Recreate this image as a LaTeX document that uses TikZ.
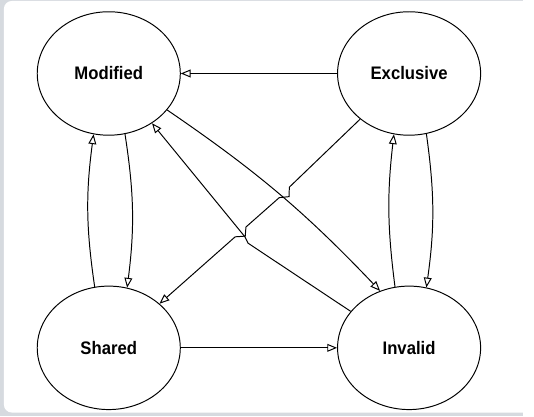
\documentclass[tikz,border=0pt]{standalone}
\usepackage{fontspec}
\setmainfont{Liberation Sans}
\newfontfamily\labfont[FakeStretch=0.92]{Liberation Sans}
\usetikzlibrary{arrows.meta,shapes.geometric}
\definecolor{bggray}{RGB}{214,218,223}
\begin{document}
\begin{tikzpicture}[x=1pt,y=-1pt,
  state/.style={ellipse,draw,line width=1pt,minimum width=146pt,minimum height=126pt,inner sep=0pt,font=\labfont\fontsize{18.5}{20}\selectfont\bfseries},
  edge/.style={line width=1pt,-{Triangle[open,length=10pt,width=8pt]}},
]
\fill[bggray] (0,0) rectangle (534,425);
\fill[white,rounded corners=8pt] (4,1) rectangle (545,421);
\useasboundingbox (0,0) rectangle (534,425);
\node[state] (M) at (111,75) {Modified};
\node[state] (E) at (417.5,75) {Exclusive};
\node[state] (S) at (111,355) {Shared};
\node[state] (I) at (417.5,355) {Invalid};
\coordinate (j1) at (295.3,191);
\coordinate (j2) at (295,200.7);
\coordinate (j3) at (285,201.7);
\coordinate (j4) at (251,231.7);
\coordinate (j5) at (250.3,241);
\coordinate (j6) at (240,241.7);
\coordinate (k1) at (253.3,248.3);
\coordinate (k2) at (250,241.7);
\draw[edge] (E.west) -- (M.east);
\draw[edge] (S.east) -- (I.west);
\draw[edge] (S.103) to[bend left=8] (M.-104);
\draw[edge] (M.-75) to[bend left=8] (S.73);
\draw[edge] (I.103) to[bend left=7] (E.-104);
\draw[edge] (E.-74.5) to[bend left=8] (I.74);
\draw[edge] (M.-32) to[bend left=6] (I.117);
\draw[edge] (E.-137) -- (j1) -- (j2) -- (j3) -- (j4) -- (j5) -- (j6) -- (S.41);
\draw[edge] (I.148) -- (k1) -- (k2) -- (M.-49);
\end{tikzpicture}
\end{document}
